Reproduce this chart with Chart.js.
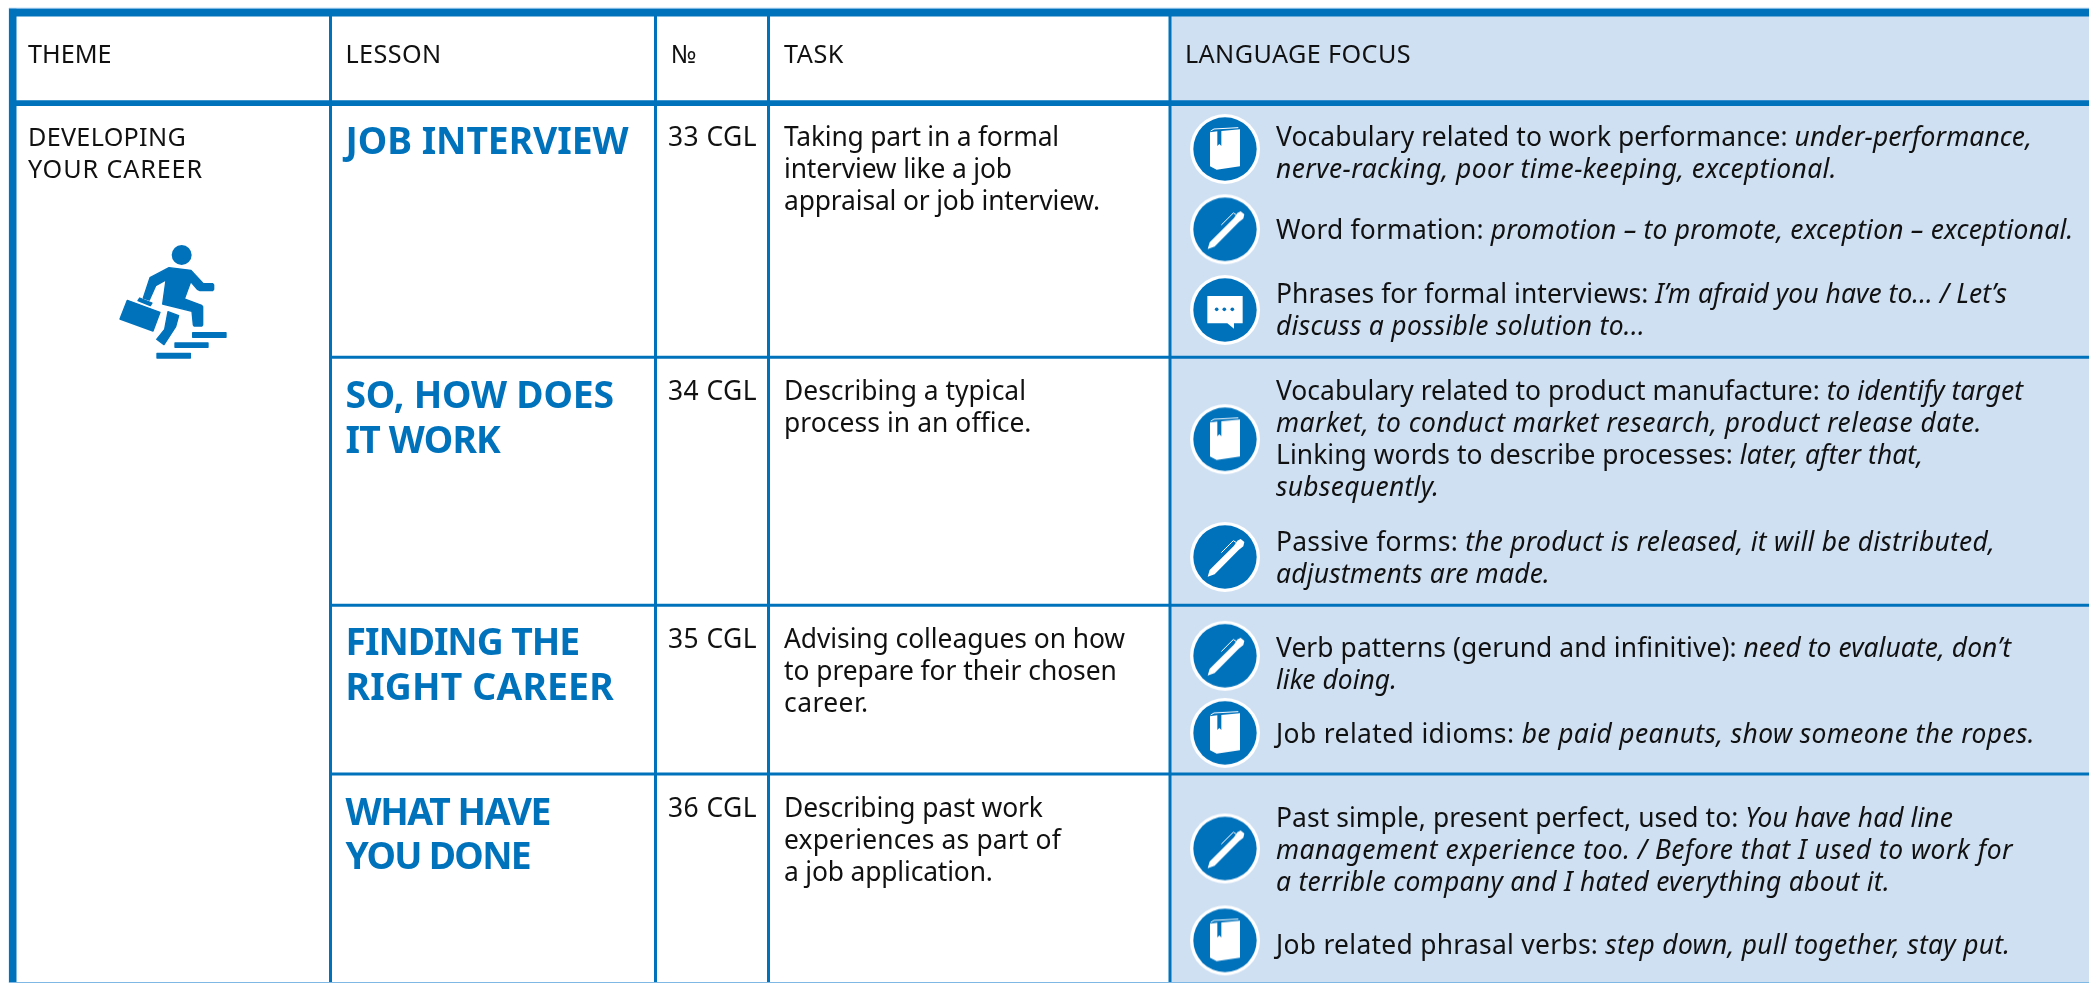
<!DOCTYPE html>
<html><head><meta charset="utf-8">
<style>html,body{margin:0;padding:0;background:#fff;overflow:hidden}canvas{display:block}</style>
<script src="https://cdn.jsdelivr.net/npm/chart.js@4"></script>
</head><body><canvas id="c" width="2089" height="983"></canvas>
<script>
// ---- table content ----
const headers = ["THEME","LESSON","№","TASK","LANGUAGE FOCUS"];
const theme = ["DEVELOPING","YOUR CAREER"];
const lessons = [["JOB INTERVIEW"],["SO, HOW DOES","IT WORK"],["FINDING THE","RIGHT CAREER"],["WHAT HAVE","YOU DONE"]];
const numbers = ["33 CGL","34 CGL","35 CGL","36 CGL"];
const tasks = [
 ["Taking part in a formal","interview like a job","appraisal or job interview."],
 ["Describing a typical","process in an office."],
 ["Advising colleagues on how","to prepare for their chosen","career."],
 ["Describing past work","experiences as part of","a job application."]];
const focus = [
 "Vocabulary related to work performance: _under-performance,_",
 "_nerve-racking, poor time-keeping, exceptional._",
 "Word formation: _promotion – to promote, exception – exceptional._",
 "Phrases for formal interviews: _I’m afraid you have to... / Let’s_",
 "_discuss a possible solution to..._",
 "Vocabulary related to product manufacture: _to identify target_",
 "_market, to conduct market research, product release date._",
 "Linking words to describe processes: _later, after that,_",
 "_subsequently._",
 "Passive forms: _the product is released, it will be distributed,_",
 "_adjustments are made._",
 "Verb patterns (gerund and infinitive): _need to evaluate, don’t_",
 "_like doing._",
 "Job related idioms: _be paid peanuts, show someone the ropes._",
 "Past simple, present perfect, used to: _You have had line_",
 "_management experience too. / Before that I used to work for_",
 "_a terrible company and I hated everything about it._",
 "Job related phrasal verbs: _step down, pull together, stay put._"];

// ---- layout (page units of the two linear scales) ----
const W=2089,H=983,BLUE="#0072bc",PALE="#cfe0f3",FONT="'Noto Sans'";
const colLines=[330.5,655.5,768.5,1170];
const rowLines=[357.3,605.3,773.9];
const headerX=[28,345.5,671,784,1185], headerY=62.7;
const headerEnd=[111.6,441.5,698,844,1411];
const themeY=[145.7,178], themeEnd=[186,203];
const lessonY=[[154],[407.7,452.8],[655,700],[824.7,869]];
const lessonEnd=[[628.6],[613.8,500],[579,613.8],[550,530]];
const numY=[145.7,400.3,647.6,817], numEnd=757;
const taskY=[[145.7,177.7,210],[400,432],[647.6,679.6,711.5],[817,849,881]];
const taskEnd=[[1058.8,1011.9,1099.8],[1026,1031.5],[1125,1116.8,868.6],[1042.7,1061,992.7]];
const focusY=[145.7,177.7,239,302.7,335,400,432,464,496,551,583,657,689,743,826.8,859,891,954];
const focusEnd=[2032,1837,2073.4,2007,1645,2023,1982,1923,1439.4,1995,1550,2011,1397,2035,1953,2013,1890,2010.4];
const bookY=[149,439.2,732.9,940.4], penY=[229.3,557,655.8,848.5], chatY=[310], iconX=1225;

function layer(w,h,draw){const c=document.createElement('canvas');c.width=w;c.height=h;draw(c.getContext('2d'));return c;}
function poly(g,p){g.beginPath();p.forEach((q,i)=>i?g.lineTo(q[0],q[1]):g.moveTo(q[0],q[1]));g.closePath();g.fill();}
function disc(g,cy){g.translate(45,45);g.scale(1/3,1/3);g.translate(-135,-cy);
 g.fillStyle="#fff";g.beginPath();g.arc(135,cy,105,0,7);g.fill();
 g.fillStyle=BLUE;g.beginPath();g.arc(135,cy,95,0,7);g.fill();g.fillStyle="#fff";}
const bookIcon=layer(90,90,g=>{disc(g,130);
 poly(g,[[90,80],[112,77],[112,121],[118,115],[124,121],[124,76],[180,71],[180,182],[110,192],[90,182]]);
 g.strokeStyle="#fff";g.lineWidth=3;g.beginPath();g.moveTo(92,76);g.lineTo(102,70);g.lineTo(175,66);g.stroke();});
const penIcon=layer(90,90,g=>{disc(g,372);
 poly(g,[[83,431],[89,411],[162,338],[172,323],[182,318],[193,327],[190,340],[176,351],[104,424]]);
 g.strokeStyle="#fff";g.lineWidth=3;g.beginPath();g.moveTo(124,359);g.lineTo(160,323);g.lineTo(168,328);g.stroke();});
const chatIcon=layer(90,90,g=>{disc(g,612);
 poly(g,[[82,570],[188,570],[188,652],[162,652],[162,668],[142,652],[82,652]]);
 g.fillStyle=BLUE;[110,133,157].forEach(x=>{g.beginPath();g.arc(x,610,5.5,0,7);g.fill();});});
const runnerIcon=layer(160,140,g=>{g.scale(1/3,1/3);g.fillStyle=BLUE;g.strokeStyle=BLUE;g.lineJoin='round';g.lineWidth=4;
 g.beginPath();g.arc(275,75,30,0,7);g.fill();
 const P=p=>{poly(g,p);g.stroke();};
 P([[180,143],[237,113],[303,121],[340,161],[368,161],[371,165],[371,178],[368,182],[330,182],[322,178],[302,155],[283,207],[335,226],[338,230],[338,285],[336,288],[312,288],[310,285],[306,244],[218,222],[228,150],[197,167],[178,210],[160,204]]);
 P([[234,245],[266,257],[257,290],[222,344],[200,328],[224,298]]);
 P([[149,204],[186,219],[181,227],[144,212]]);
 P([[112,211],[210,247],[189,303],[90,267]]);
 P([[308,308],[408,308],[408,322],[308,322]]);
 P([[255,339],[354,339],[354,352],[255,352]]);
 P([[201,370],[301,370],[301,384],[201,384]]);});

// ---- datasets ----
const rule=(x1,y1,x2,y2,w,color)=>({type:'line',data:[{x:x1,y:y1},{x:x2,y:y2}],borderColor:color||BLUE,borderWidth:w,pointRadius:0,tension:0,fill:false,order:2,borderCapStyle:'butt'});
const mark=(style,xs,ys)=>({type:'scatter',data:ys.map((y,i)=>({x:xs[i],y})),pointStyle:style,pointRadius:40,order:1,showLine:false});
const datasets=[
 {type:'line',data:[{x:colLines[3],y:12},{x:W,y:12}],borderWidth:0,pointRadius:0,fill:{target:{value:H}},backgroundColor:PALE,order:3},
 rule(9,982.5,W,982.5,1,"#7fb8e4"),
 rule(9,8.3,W,8.3,1,"#7fb8e4"),
 ...colLines.map(x=>rule(x,12,x,H,3)),
 ...rowLines.map(y=>rule(colLines[0],y,W,y,3)),
 rule(12.7,8,12.7,H,7.6),
 rule(9,12.6,W,12.6,8),
 rule(9,103.2,W,103.2,5.8),
 mark(bookIcon,bookY.map(()=>iconX),bookY),
 mark(penIcon,penY.map(()=>iconX),penY),
 mark(chatIcon,chatY.map(()=>iconX),chatY),
 mark(runnerIcon,[170],[300])
];

// ---- text, placed through the chart's scales; each line is fitted to its measured right end ----
const textPlugin={id:'tableText',afterDatasetsDraw(chart){
 const g=chart.ctx,sx=chart.scales.x,sy=chart.scales.y;
 g.save();g.textBaseline='alphabetic';g.textAlign='left';
 const put=(s,x,y,end,size,color,weight)=>{let px=sx.getPixelForValue(x),py=sy.getPixelForValue(y);g.fillStyle=color;
  const parts=s.split('_'),fontOf=i=>`${i%2?'italic ':''}${weight||400} ${size}px ${FONT}`;
  g.letterSpacing='0px';let total=0,n=0;
  parts.forEach((seg,i)=>{g.font=fontOf(i);total+=g.measureText(seg).width;n+=seg.length;});
  g.letterSpacing=((end-x-total)/n).toFixed(3)+'px';
  parts.forEach((seg,i)=>{if(!seg)return;g.font=fontOf(i);g.fillText(seg,px,py);px+=g.measureText(seg).width;});
  g.letterSpacing='0px';};
 const TXT="#111",S=26.4,C=25.2;
 headers.forEach((h,i)=>put(h,headerX[i],headerY,headerEnd[i],C,TXT));
 theme.forEach((t,i)=>put(t,headerX[0],themeY[i],themeEnd[i],C,TXT));
 lessons.forEach((l,r)=>l.forEach((t,i)=>put(t,headerX[1],lessonY[r][i],lessonEnd[r][i],37.3,BLUE,700)));
 numbers.forEach((n,r)=>put(n,668,numY[r],numEnd,S,TXT));
 tasks.forEach((l,r)=>l.forEach((t,i)=>put(t,headerX[3],taskY[r][i],taskEnd[r][i],S,TXT)));
 focus.forEach((t,i)=>put(t,1276,focusY[i],focusEnd[i],S,TXT));
 g.restore();}};

new Chart(document.getElementById('c'),{type:'scatter',data:{datasets},plugins:[textPlugin],options:{
 responsive:false,animation:false,events:[],layout:{padding:0,autoPadding:false},
 plugins:{legend:{display:false},tooltip:{enabled:false},title:{display:false}},
 scales:{x:{type:'linear',min:0,max:W,display:false},y:{type:'linear',min:0,max:H,reverse:true,display:false}}}});
</script></body></html>
